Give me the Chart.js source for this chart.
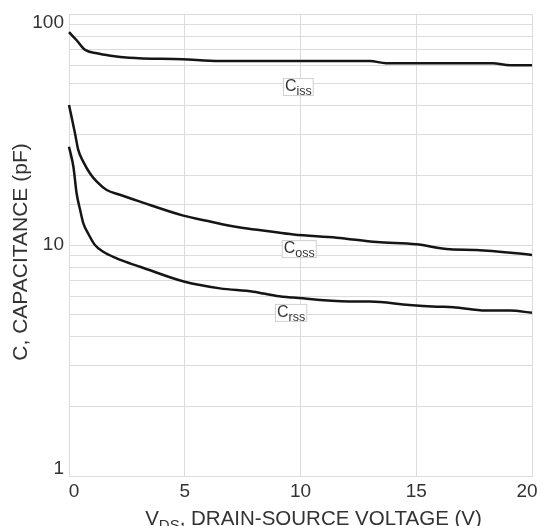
<!DOCTYPE html>
<html>
<head>
<meta charset="utf-8">
<script src="https://cdn.jsdelivr.net/npm/chart.js@4"></script>
<style>
html,body{margin:0;padding:0;background:#fff;}
canvas{display:block;}
</style>
</head>
<body>
<canvas id="c" width="542" height="526"></canvas>
<script>
// ---- data ----
const vdsIss = [0, 0.33, 0.69, 1.2, 1.8, 2.6, 4.9, 6.5, 9, 13, 13.7, 18.3, 19.05, 20];
const ciss   = [83.5, 77, 70, 67.6, 66, 64.7, 63.7, 62.6, 62.6, 62.6, 61.2, 61.2, 60, 60];

const vdsOss = [0, 0.26, 0.4, 0.62, 0.91, 1.2, 1.63, 2.2, 3.07, 4.94, 6.0, 7.39, 8.54, 9.69, 11.56, 13.3, 15.0, 16.46, 17.6, 20];
const coss   = [40.4, 30.4, 25.8, 22.9, 20.4, 18.8, 17.3, 16.5, 15.4, 13.4, 12.7, 11.9, 11.5, 11.1, 10.76, 10.3, 10.07, 9.58, 9.52, 9.06];

const vdsRss = [0, 0.19, 0.33, 0.48, 0.62, 0.83, 1.12, 1.48, 2.06, 2.63, 3.07, 5.0, 6.52, 7.96, 8.97, 9.69, 12.1, 13.0, 14.7, 15.9, 16.6, 18.0, 19.05, 20];
const crss   = [26.6, 21.8, 16.7, 14.2, 12.4, 11.2, 10.0, 9.35, 8.76, 8.33, 8.05, 6.93, 6.49, 6.28, 6.02, 5.92, 5.69, 5.69, 5.50, 5.41, 5.38, 5.2, 5.2, 5.09];

const xTickLabels = ['0', '5', '10', '15', '20'];
const xTickValues = [0, 5, 10, 15, 20];
const yTickLabels = ['1', '10', '100'];
const yTickValues = [1, 10, 100];

const curveNames = ['iss', 'oss', 'rss'];
const curveLabelAnchors = [[9.24, 52.8], [9.19, 10.5], [8.9, 5.56]];

const xTitleMain = 'V';
const xTitleSub = 'DS';
const xTitleRest = ', DRAIN-SOURCE VOLTAGE (V)';
const yTitle = 'C, CAPACITANCE (pF)';

// ---- chart ----
const toPts = (xs, ys) => xs.map((x, i) => ({x: x, y: ys[i]}));
const FONT = '"Liberation Sans", Arial, Helvetica, sans-serif';
const TXT = '#333';
const GRID = '#dcdcdc';

const lineDs = (data) => ({
  data: data,
  borderColor: '#151515',
  borderWidth: 2.5,
  pointRadius: 0,
  fill: false,
  cubicInterpolationMode: 'monotone',
  clip: false
});

const textPlugin = {
  id: 'texts',
  afterDraw(chart) {
    const ctx = chart.ctx;
    const xs = chart.scales.x, ys = chart.scales.y;
    ctx.save();
    ctx.fillStyle = TXT;
    // y tick labels
    ctx.font = '19px ' + FONT;
    ctx.textAlign = 'right';
    ctx.textBaseline = 'middle';
    yTickValues.forEach((v, i) => {
      let py = ys.getPixelForValue(v);
      if (i === yTickValues.length - 1) py += 8.5;
      else if (i === 0) py -= 7;
      ctx.fillText(yTickLabels[i], xs.left - 5, py);
    });
    // x tick labels
    ctx.textAlign = 'center';
    xTickValues.forEach((v, i) => {
      let px = xs.getPixelForValue(v);
      if (i === 0) px += 5;
      else if (i === xTickValues.length - 1) px -= 5;
      ctx.fillText(xTickLabels[i], px, ys.bottom + 16);
    });
    // y title
    ctx.save();
    ctx.translate(21.5, (ys.top + ys.bottom) / 2 + 7);
    ctx.rotate(-Math.PI / 2);
    ctx.textAlign = 'center';
    ctx.textBaseline = 'middle';
    ctx.font = '21px ' + FONT;
    ctx.fillText(yTitle, 0, 0);
    ctx.restore();
    // x title with subscript
    ctx.textAlign = 'left';
    ctx.textBaseline = 'alphabetic';
    const mainF = '20.5px ' + FONT, subF = '15px ' + FONT;
    ctx.font = mainF;
    const wMain = ctx.measureText(xTitleMain).width;
    const wRest = ctx.measureText(xTitleRest).width;
    ctx.font = subF;
    const wSub = ctx.measureText(xTitleSub).width;
    const total = wMain + wSub + wRest;
    let sx = (xs.left + xs.right) / 2 + 13 - total / 2;
    const by = ys.bottom + 49;
    ctx.font = mainF;
    ctx.fillText(xTitleMain, sx, by);
    ctx.font = subF;
    ctx.fillText(xTitleSub, sx + wMain, by + 5);
    ctx.font = mainF;
    ctx.fillText(xTitleRest, sx + wMain + wSub, by);
    // curve labels
    curveNames.forEach((nm, i) => {
      const px = xs.getPixelForValue(curveLabelAnchors[i][0]);
      const py = ys.getPixelForValue(curveLabelAnchors[i][1]);
      ctx.font = '16px ' + FONT;
      const wc = ctx.measureText('C').width;
      ctx.font = '12.5px ' + FONT;
      const wsub = ctx.measureText(nm).width;
      const bw = wc + wsub + 4, bh = 18;
      ctx.fillStyle = '#fff';
      ctx.fillRect(px, py, bw, bh);
      ctx.strokeStyle = '#cfcfcf';
      ctx.lineWidth = 1;
      ctx.strokeRect(px + 0.5, py + 0.5, bw - 1, bh - 1);
      ctx.fillStyle = TXT;
      ctx.font = '16px ' + FONT;
      ctx.fillText('C', px + 2, py + 13);
      ctx.font = '12.5px ' + FONT;
      ctx.fillText(nm, px + 2 + wc, py + 17);
    });
    ctx.restore();
  }
};

new Chart(document.getElementById('c'), {
  type: 'line',
  data: {
    datasets: [
      lineDs(toPts(vdsIss, ciss)),
      lineDs(toPts(vdsOss, coss)),
      lineDs(toPts(vdsRss, crss))
    ]
  },
  options: {
    responsive: false,
    animation: false,
    layout: {padding: {top: 14, right: 10, left: 0, bottom: 0}},
    plugins: {legend: {display: false}, tooltip: {enabled: false}},
    scales: {
      x: {
        type: 'linear', min: 0, max: 20,
        ticks: {display: false, stepSize: 5},
        grid: {color: GRID, drawTicks: false, lineWidth: 1},
        border: {color: GRID},
        afterFit: s => { s.height = 50; }
      },
      y: {
        type: 'logarithmic', min: 1, max: 100,
        ticks: {display: false},
        grid: {color: GRID, drawTicks: false, lineWidth: 1},
        border: {color: GRID},
        afterFit: s => { s.width = 69; }
      }
    }
  },
  plugins: [textPlugin]
});
</script>
</body>
</html>
